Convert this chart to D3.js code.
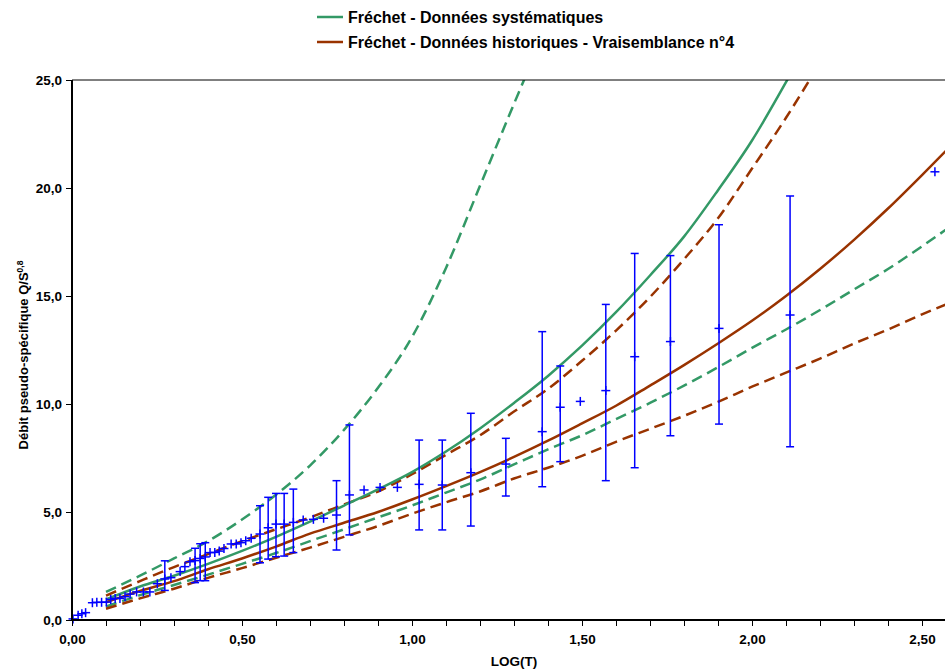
<!DOCTYPE html>
<html><head><meta charset="utf-8">
<script src="https://cdn.jsdelivr.net/npm/d3@7"></script>
<style>
body{margin:0;background:#fff}
svg text{font-family:"Liberation Sans",Arial,sans-serif;font-weight:bold;fill:#000}
</style>
</head><body><svg id="c" width="945" height="670"></svg>
<script>
// ---------- data ----------
const legendLabels = ["Fréchet - Données systématiques", "Fréchet - Données historiques - Vraisemblance n°4"];
const xTicks = [0, 0.5, 1.0, 1.5, 2.0, 2.5];
const yTicks = [0, 5, 10, 15, 20, 25];

const curveLogT = [0.1,0.2,0.3,0.4,0.5,0.6,0.7,0.8,0.9,1.0,1.1,1.2,1.3,1.4,1.5,1.6,1.7,1.8,1.9,2.0,2.1,2.2,2.3,2.4,2.5,2.6];
const sysMain  = [0.95,1.55,2.05,2.6,3.2,3.85,4.55,5.3,6.05,6.85,7.8,8.87,10.05,11.3,12.7,14.25,15.95,17.75,19.9,22.2,24.9,27.8,null,null,null,null];
const sysUpper = [1.30,2.05,2.85,3.65,4.65,5.8,7.15,8.8,10.75,13.1,16.3,20.1,23.9,27.6,null,null,null,null,null,null,null,null,null,null,null,null];
const sysLower = [0.62,1.15,1.62,2.1,2.6,3.1,3.65,4.2,4.75,5.3,5.9,6.5,7.2,7.9,8.55,9.3,10.05,10.85,11.7,12.6,13.45,14.35,15.3,16.25,17.3,18.4];
const histMain  = [0.82,1.35,1.8,2.35,2.85,3.4,4.0,4.5,5.0,5.58,6.2,6.85,7.55,8.3,9.1,9.92,10.85,11.8,12.8,13.85,15.0,16.25,17.6,19.05,20.6,22.2];
const histUpper = [1.13,1.8,2.45,3.05,3.65,4.2,4.75,5.35,5.95,6.75,7.65,8.55,9.65,10.7,12.0,13.4,14.95,16.7,18.6,20.9,23.25,25.8,null,null,null,null];
const histLower = [0.52,1.0,1.45,1.95,2.4,2.88,3.35,3.85,4.35,4.92,5.45,5.95,6.55,7.05,7.6,8.25,8.85,9.45,10.1,10.8,11.45,12.1,12.8,13.45,14.15,14.8];

// observed points (no interval)
const obsLogT = [0.003,0.018,0.029,0.040,0.060,0.073,0.087,0.101,0.114,0.127,0.141,0.156,0.171,0.190,0.210,0.229,0.251,0.291,0.318,0.332,0.347,0.406,0.420,0.433,0.447,0.468,0.483,0.497,0.511,0.527,0.680,0.710,0.740,0.859,0.906,0.957,1.495,2.538];
const obsQ    = [0.05,0.22,0.29,0.34,0.80,0.82,0.82,0.83,0.95,1.0,1.0,1.08,1.2,1.3,1.3,1.3,1.68,1.96,2.24,2.47,2.7,3.12,3.13,3.19,3.31,3.52,3.52,3.58,3.67,3.78,4.63,4.66,4.71,6.02,6.14,6.14,10.12,20.75];
// historical points with intervals
const barLogT = [0.273,0.362,0.377,0.392,0.553,0.577,0.600,0.624,0.651,0.778,0.816,1.021,1.089,1.173,1.276,1.383,1.436,1.570,1.655,1.760,1.903,2.112];
const barQ    = [1.90,2.75,2.85,2.92,3.98,4.27,4.44,4.44,4.52,4.86,5.79,6.28,6.25,6.82,7.22,8.72,9.85,10.62,12.19,12.89,13.50,14.12];
const barLow  = [1.37,1.73,1.82,1.82,2.65,2.82,2.93,2.96,3.12,3.24,3.94,4.17,4.17,4.35,5.74,6.17,7.33,6.45,7.05,8.53,9.07,8.02];
const barHigh = [2.74,3.32,3.53,3.58,5.29,5.68,5.86,5.86,6.06,6.45,9.03,8.33,8.33,9.57,8.41,13.35,11.76,14.61,16.97,16.87,18.30,19.63];

// ---------- drawing ----------
const GREEN = "#339966", BROWN = "#993300", BLUE = "#0000FF";
const pL = 72, pT = 80, pB = 620, pR = 956;
const svg = d3.select("#c");
const x = d3.scaleLinear().domain([0, 2.6]).range([pL, pR]);
const y = d3.scaleLinear().domain([0, 25]).range([pB, pT]);

svg.append("defs").append("clipPath").attr("id","plot")
  .append("rect").attr("x", pL).attr("y", pT).attr("width", pR-pL).attr("height", pB-pT);

const g = svg.append("g").attr("clip-path","url(#plot)");

const line = d3.line()
  .defined(d => d[1] != null)
  .x(d => x(d[0])).y(d => y(d[1]))
  .curve(d3.curveMonotoneX);

const curves = [
  {v: sysUpper, c: GREEN, dash: "11,6"},
  {v: sysLower, c: GREEN, dash: "11,6"},
  {v: histUpper, c: BROWN, dash: "11,6"},
  {v: histLower, c: BROWN, dash: "11,6"},
  {v: sysMain, c: GREEN, dash: null},
  {v: histMain, c: BROWN, dash: null}
];
curves.forEach(cv => {
  g.append("path")
    .datum(curveLogT.map((t,i) => [t, cv.v[i]]))
    .attr("d", line)
    .attr("fill","none")
    .attr("stroke", cv.c)
    .attr("stroke-width", 2.5)
    .attr("stroke-dasharray", cv.dash);
});

// error bars
const eb = g.append("g").attr("stroke", BLUE).attr("stroke-width", 1.5);
barLogT.forEach((t,i) => {
  const cx = x(t);
  eb.append("line").attr("x1",cx).attr("x2",cx).attr("y1",y(barLow[i])).attr("y2",y(barHigh[i]));
  eb.append("line").attr("x1",cx-4).attr("x2",cx+4).attr("y1",y(barLow[i])).attr("y2",y(barLow[i]));
  eb.append("line").attr("x1",cx-4).attr("x2",cx+4).attr("y1",y(barHigh[i])).attr("y2",y(barHigh[i]));
});

// plus markers
const markers = obsLogT.map((t,i)=>[t,obsQ[i]]).concat(barLogT.map((t,i)=>[t,barQ[i]]));
const mk = svg.append("g").attr("stroke", BLUE).attr("stroke-width", 1.5);
markers.forEach(d => {
  const cx = x(d[0]), cy = y(d[1]);
  mk.append("line").attr("x1",cx-4.5).attr("x2",cx+4.5).attr("y1",cy).attr("y2",cy);
  mk.append("line").attr("x1",cx).attr("x2",cx).attr("y1",cy-4.5).attr("y2",cy+4.5);
});

// top border
svg.append("line").attr("x1",pL).attr("x2",pR).attr("y1",pT).attr("y2",pT)
  .attr("stroke","#000").attr("stroke-width",1);

// axes
const fmt2 = d => d3.format(".2f")(d).replace(".", ",");
const fmt1 = d => d3.format(".1f")(d).replace(".", ",");

const xMinor = svg.append("g").attr("transform",`translate(0,${pB})`)
  .call(d3.axisBottom(x).tickValues(d3.range(0, 26).map(i=>i/10)).tickSize(6).tickFormat(""));
xMinor.select(".domain").remove();
xMinor.selectAll("line").attr("stroke","#000").attr("stroke-width",1);

const xAxis = svg.append("g").attr("transform",`translate(0,${pB})`)
  .call(d3.axisBottom(x).tickValues(xTicks).tickSize(6).tickPadding(8).tickFormat(fmt2));
xAxis.select(".domain").attr("stroke","#000").attr("stroke-width",2).attr("d",`M${pL},0H${pR}`);
xAxis.selectAll("text").style("font-size","13.5px");

const yAxis = svg.append("g").attr("transform",`translate(${pL},0)`)
  .call(d3.axisLeft(y).tickValues(yTicks).tickSize(6).tickPadding(4).tickFormat(fmt1));
yAxis.select(".domain").attr("stroke","#000").attr("stroke-width",2).attr("d",`M0,${pB}V${pT}`);
yAxis.selectAll("text").style("font-size","13.5px");

// axis titles
svg.append("text").attr("x", (pL+pR)/2).attr("y", 666).attr("text-anchor","middle")
  .style("font-size","13.5px").text("LOG(T)");
const yt = svg.append("text").attr("transform","translate(28,355) rotate(-90)").attr("text-anchor","middle")
  .style("font-size","13px");
yt.append("tspan").text("Débit pseudo-spécifique Q/S");
yt.append("tspan").attr("dy",-5).style("font-size","8.5px").text("0,8");

// legend
const leg = svg.append("g");
[[GREEN,17,legendLabels[0]],[BROWN,42,legendLabels[1]]].forEach(([c,yy,t]) => {
  leg.append("line").attr("x1",317).attr("x2",343).attr("y1",yy).attr("y2",yy).attr("stroke",c).attr("stroke-width",2.5);
  leg.append("text").attr("x",348).attr("y",yy+6).style("font-size","16px").text(t);
});
</script>
</body></html>
